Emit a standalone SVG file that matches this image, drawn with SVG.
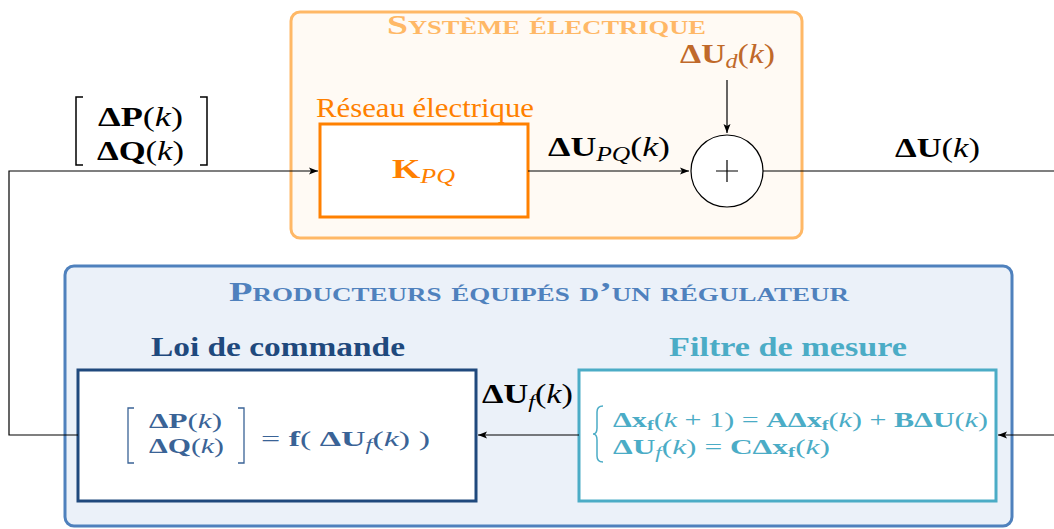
<svg xmlns="http://www.w3.org/2000/svg" width="1054" height="529" viewBox="0 0 1054 529">
<defs>
<marker id="arr" markerWidth="10" markerHeight="8" refX="9" refY="4" orient="auto" markerUnits="userSpaceOnUse">
<path d="M0,0.5 L9,4 L0,7.5 L2,4 Z" fill="#000"/>
</marker>
</defs>
<style>
text{font-family:"Liberation Serif","DejaVu Serif",serif;}
.b{font-weight:bold;}
.i{font-style:italic;}
.conn{fill:none;stroke:#000;stroke-width:1.2;}
</style>
<rect width="1054" height="529" fill="#fff"/>
<g id="systeme">
<rect x="291" y="12" width="511" height="226" rx="9" fill="#fffaf4" stroke="#ffb866" stroke-width="3"/>
<text x="387" y="34" font-size="27" font-weight="bold" font-variant="small-caps" fill="#ffb866" textLength="319" lengthAdjust="spacingAndGlyphs">Système électrique</text>
</g>
<g id="producteurs">
<rect x="65" y="266" width="947" height="260" rx="9" fill="#ebf1f9" stroke="#4f81bd" stroke-width="3"/>
<text x="229" y="301" font-size="27" font-weight="bold" font-variant="small-caps" fill="#4f81bd" textLength="620" lengthAdjust="spacingAndGlyphs">Producteurs équipés d’un régulateur</text>
</g>
<g id="reseau">
<text x="316" y="117" font-size="27" fill="#ff8000" textLength="218" lengthAdjust="spacingAndGlyphs">Réseau électrique</text>
<rect x="320" y="124" width="208" height="93" fill="#fff" stroke="#ff8000" stroke-width="3"/>
<text x="392" y="178" font-size="28" fill="#ff8000" textLength="63" lengthAdjust="spacingAndGlyphs"><tspan class="b">K</tspan><tspan class="i" font-size="20" dy="5">PQ</tspan></text>
</g>
<g id="somme">
<circle cx="727" cy="171" r="36" fill="#fff" stroke="#000" stroke-width="1.2"/>
<path d="M727,160 V182 M716,171 H738" stroke="#000" stroke-width="1.2"/>
</g>
<g id="perturbation">
<text x="680" y="63" font-size="28" fill="#c0692a" textLength="95" lengthAdjust="spacingAndGlyphs"><tspan class="b">ΔU</tspan><tspan class="i" font-size="20" dy="5">d</tspan><tspan dy="-5">(</tspan><tspan class="i">k</tspan>)</text>
</g>
<g id="loi">
<text x="151" y="356" font-size="28" font-weight="bold" fill="#1f497d" textLength="254" lengthAdjust="spacingAndGlyphs">Loi de commande</text>
<rect x="78" y="370" width="398" height="131" fill="#fff" stroke="#1f497d" stroke-width="3"/>
<g fill="#3a6396" font-size="22">
<path d="M134,408 H128 V463 H134 M238,408 H244 V463 H238" fill="none" stroke="#3a6396" stroke-width="1.3"/>
<text x="149" y="428" textLength="73" lengthAdjust="spacingAndGlyphs"><tspan class="b">ΔP</tspan>(<tspan class="i">k</tspan>)</text>
<text x="149" y="453" textLength="75" lengthAdjust="spacingAndGlyphs"><tspan class="b">ΔQ</tspan>(<tspan class="i">k</tspan>)</text>
<text x="261" y="446" textLength="169" lengthAdjust="spacingAndGlyphs">= <tspan class="b">f</tspan>(  <tspan class="b">ΔU</tspan><tspan class="i" font-size="16" dy="4">f</tspan><tspan dy="-4">(</tspan><tspan class="i">k</tspan>)  )</text>
</g>
</g>
<g id="filtre">
<text x="669" y="356" font-size="28" font-weight="bold" fill="#4bacc6" textLength="238" lengthAdjust="spacingAndGlyphs">Filtre de mesure</text>
<rect x="579" y="370" width="417" height="131" fill="#fff" stroke="#4bacc6" stroke-width="3"/>
<g fill="#4bacc6" font-size="22">
<path d="M603,406 Q597,406 597,412 V428 Q597,434 593,434 Q597,434 597,440 V456 Q597,462 603,462" fill="none" stroke="#4bacc6" stroke-width="1.5"/>
<text x="613" y="427" textLength="375" lengthAdjust="spacingAndGlyphs"><tspan class="b">Δx</tspan><tspan class="b" font-size="15" dy="3">f</tspan><tspan dy="-3">(</tspan><tspan class="i">k</tspan> + 1) = <tspan class="b">AΔx</tspan><tspan class="b" font-size="15" dy="3">f</tspan><tspan dy="-3">(</tspan><tspan class="i">k</tspan>) + <tspan class="b">BΔU</tspan>(<tspan class="i">k</tspan>)</text>
<text x="613" y="454" textLength="217" lengthAdjust="spacingAndGlyphs"><tspan class="b">ΔU</tspan><tspan class="i" font-size="16" dy="4">f</tspan><tspan dy="-4">(</tspan><tspan class="i">k</tspan>) = <tspan class="b">CΔx</tspan><tspan class="b" font-size="15" dy="3">f</tspan><tspan dy="-3">(</tspan><tspan class="i">k</tspan>)</text>
</g>
</g>
<g id="connecteurs">
<path class="conn" d="M78,435 H9 V171 H318" marker-end="url(#arr)"/>
<path class="conn" d="M528,171 H689" marker-end="url(#arr)"/>
<path class="conn" d="M727,80 V133" marker-end="url(#arr)"/>
<path class="conn" d="M763,171 H1054"/>
<path class="conn" d="M1054,435 H998" marker-end="url(#arr)"/>
<path class="conn" d="M579,435 H478" marker-end="url(#arr)"/>
<path d="M83,97 H76 V165 H83 M200,97 H207 V165 H200" fill="none" stroke="#000" stroke-width="1.5"/>
<text x="98" y="126" font-size="27" textLength="85" lengthAdjust="spacingAndGlyphs"><tspan class="b">ΔP</tspan>(<tspan class="i">k</tspan>)</text>
<text x="97" y="160" font-size="27" textLength="87" lengthAdjust="spacingAndGlyphs"><tspan class="b">ΔQ</tspan>(<tspan class="i">k</tspan>)</text>
<text x="548" y="156" font-size="28" textLength="122" lengthAdjust="spacingAndGlyphs"><tspan class="b">ΔU</tspan><tspan class="i" font-size="20" dy="5">PQ</tspan><tspan dy="-5">(</tspan><tspan class="i">k</tspan>)</text>
<text x="895" y="157" font-size="28" textLength="85" lengthAdjust="spacingAndGlyphs"><tspan class="b">ΔU</tspan>(<tspan class="i">k</tspan>)</text>
<text x="482" y="403" font-size="27" textLength="91" lengthAdjust="spacingAndGlyphs"><tspan class="b">ΔU</tspan><tspan class="i" font-size="19" dy="5">f</tspan><tspan dy="-5">(</tspan><tspan class="i">k</tspan>)</text>
</g>
</svg>
